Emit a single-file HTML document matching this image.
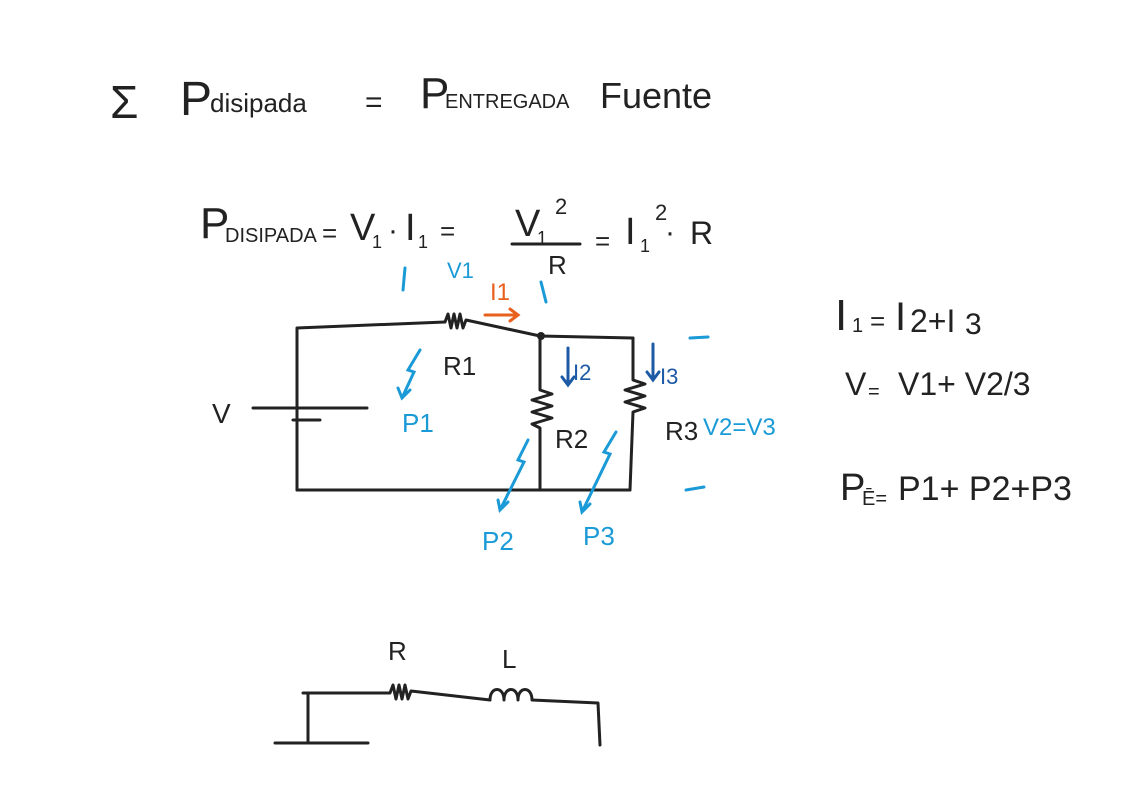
<!DOCTYPE html>
<html><head><meta charset="utf-8"><style>
html,body{margin:0;padding:0;background:#fff;}
svg{display:block}
text{font-family:"Liberation Sans",sans-serif;}
</style></head><body>
<svg width="1123" height="793" viewBox="0 0 1123 793" xmlns="http://www.w3.org/2000/svg">
<g fill="#222" font-weight="normal">
<text x="110" y="118" font-size="46">Σ</text>
<text x="180" y="115" font-size="48">P</text>
<text x="210" y="112" font-size="26">disipada</text>
<text x="365" y="112" font-size="30">=</text>
<text x="420" y="108" font-size="44">P</text>
<text x="445" y="108" font-size="20">ENTREGADA</text>
<text x="600" y="108" font-size="36">Fuente</text>

<text x="200" y="238" font-size="44">P</text>
<text x="225" y="242" font-size="20">DISIPADA</text>
<text x="322" y="242" font-size="26">=</text>
<text x="350" y="240" font-size="38">V</text>
<text x="372" y="248" font-size="18">1</text>
<text x="388" y="240" font-size="30">·</text>
<text x="405" y="240" font-size="38">I</text>
<text x="418" y="248" font-size="18">1</text>
<text x="440" y="240" font-size="26">=</text>
<text x="515" y="236" font-size="38">V</text>
<text x="537" y="244" font-size="18">1</text>
<text x="555" y="214" font-size="22">2</text>
<text x="548" y="274" font-size="26">R</text>
<text x="595" y="250" font-size="26">=</text>
<text x="625" y="244" font-size="38">I</text>
<text x="640" y="252" font-size="18">1</text>
<text x="655" y="220" font-size="22">2</text>
<text x="665" y="242" font-size="30">·</text>
<text x="690" y="244" font-size="32">R</text>

<text x="835" y="330" font-size="44">I</text>
<text x="852" y="332" font-size="20">1</text>
<text x="870" y="330" font-size="26">=</text>
<text x="895" y="330" font-size="40">I</text>
<text x="910" y="332" font-size="32">2+I</text>
<text x="965" y="334" font-size="30">3</text>
<text x="845" y="395" font-size="32">V</text>
<text x="868" y="398" font-size="20">=</text>
<text x="898" y="395" font-size="32">V1+ V2/3</text>
<text x="840" y="500" font-size="38">P</text>
<text x="862" y="505" font-size="20">Ē=</text>
<text x="898" y="500" font-size="34">P1+ P2+P3</text>

<text x="212" y="423" font-size="28">V</text>
<text x="443" y="375" font-size="26">R1</text>
<text x="555" y="448" font-size="26">R2</text>
<text x="665" y="440" font-size="26">R3</text>
<text x="388" y="660" font-size="26">R</text>
<text x="502" y="668" font-size="26">L</text>
</g>

<g fill="none" stroke="#222" stroke-width="3" stroke-linecap="round" stroke-linejoin="round">
<path d="M512 244 L580 244"/>
<path d="M297 490 L297 328 L445 322"/>
<path d="M445 322 l3 -8 l3 14 l3 -14 l3 14 l3 -14 l3 14 l3 -8 L540 336 L633 338"/>
<path d="M297 490 L630 490"/>
<path d="M253 408 L367 408"/>
<path d="M293 420 L320 420"/>
<path d="M540 336 L540 390 l12 4 l-20 6 l20 6 l-20 6 l20 6 l-20 6 l8 4 L540 490"/>
<path d="M633 338 L633 380 l12 4 l-20 6 l20 6 l-20 6 l20 6 l-12 4 L630 490"/>
<path d="M303 693 L390 693 l3 -8 l3 14 l3 -14 l3 14 l3 -14 l3 14 l3 -8 L490 700"/>
<path d="M490 700 c0 -14 14 -14 14 0 c0 -14 14 -14 14 0 c0 -14 14 -14 14 0 L598 703 L600 745"/>
<path d="M308 693 L308 743"/>
<path d="M275 743 L368 743"/>
</g>
<circle cx="541" cy="336" r="4" fill="#222"/>

<g stroke="#e8601c" stroke-width="3" fill="none" stroke-linecap="round">
<path d="M485 315 L518 315 M510 309 L518 315 L510 321"/>
</g>
<text x="490" y="300" font-size="24" fill="#e8601c">I1</text>

<g fill="#1a9ad6" font-size="26">
<text x="447" y="278" font-size="22">V1</text>
<text x="402" y="432">P1</text>
<text x="482" y="550">P2</text>
<text x="583" y="545">P3</text>
<text x="703" y="435" font-size="24">V2=V3</text>
</g>
<g stroke="#1a9ad6" stroke-width="3" fill="none" stroke-linecap="round">
<path d="M405 268 L403 290 M541 282 L546 302"/>
<path d="M690 338 L708 337 M686 490 L704 487"/>
<path d="M420 350 L408 370 L414 372 L402 398 M398 388 L402 398 L410 390"/>
<path d="M528 440 L518 460 L524 462 L500 510 M498 500 L500 510 L508 502"/>
<path d="M616 432 L604 452 L610 454 L582 512 M580 502 L582 512 L590 504"/>
</g>
<g stroke="#1d5aa6" stroke-width="3" fill="none" stroke-linecap="round">
<path d="M568 348 L568 385 M562 377 L568 385 L574 377"/>
<path d="M653 344 L653 380 M647 372 L653 380 L659 372"/>
</g>
<g fill="#1d5aa6" font-size="22">
<text x="573" y="380">I2</text>
<text x="660" y="384">I3</text>
</g>
</svg>
</body></html>
